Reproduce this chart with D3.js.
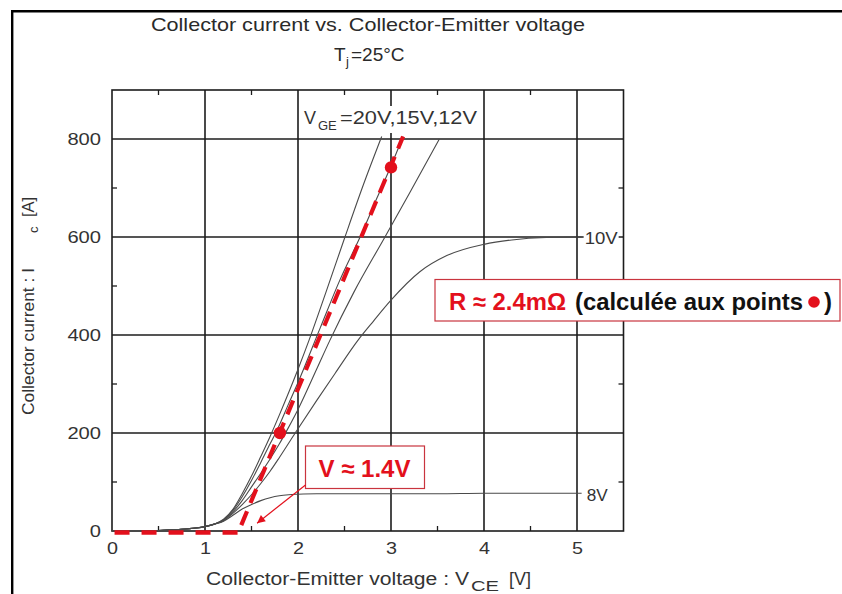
<!DOCTYPE html>
<html><head><meta charset="utf-8">
<script src="https://cdn.jsdelivr.net/npm/d3@7"></script>
<style>
body{margin:0;background:#fff}
svg{display:block}
text{font-family:"Liberation Sans",Arial,Helvetica,sans-serif}
</style>
</head><body>
<svg id="c" width="842" height="594"></svg>
<script>
// ---------- data ----------
const xTicks = [0, 1, 2, 3, 4, 5];
const yTicks = [0, 200, 400, 600, 800];
const xMinorTicks = [0.5, 1.5, 2.5, 3.5, 4.5];
const yMinorTicks = [100, 300, 500, 700];
const xDomain = [0, 5.5];
const yDomain = [0, 900];

const lowPart = [[0,0],[0.3,0.3],[0.5,1],[0.7,3],[0.9,6],[1.0,9],[1.1,14]];
const vge20 = [[1.2,24],[1.3,44],[1.4,76],[1.5,112],[1.6,152],[1.7,193],[1.8,237],[2.0,330],[2.12,390],[2.3,487],[2.505,600],[2.7,705],[2.9,805]];
const vge15 = [[1.2,23],[1.3,42],[1.4,70],[1.5,103],[1.6,140],[1.7,178],[1.76,200],[1.9,260],[2.0,303],[2.24,415],[2.45,512],[2.68,605],[2.85,680],[3.0,745],[3.13,805]];
const vge12 = [[1.2,22],[1.3,39],[1.4,62],[1.5,90],[1.6,118],[1.7,147],[1.8,178],[1.9,212],[2.0,248],[2.2,330],[2.34,388],[2.6,487],[2.935,600],[3.2,690],[3.52,800]];
const vge10 = [[1.2,21],[1.3,36],[1.4,54],[1.5,74],[1.6,97],[1.7,122],[1.8,150],[1.97,200],[2.2,266],[2.4,322],[2.64,388],[2.81,428],[3.0,471],[3.31,529],[3.6,562],[4.0,585],[4.3,594],[4.67,599],[5.05,600]];
const vge8  = [[1.2,20],[1.3,32],[1.4,45],[1.5,54],[1.6,62],[1.7,68],[1.8,72],[1.9,74],[2.0,75],[2.2,76],[2.6,76],[3.0,76],[3.5,76],[4.0,77],[4.5,77],[5.05,77]];
const curveLabels = ["10V", "8V"];

const fitLine = [[1.39,12],[3.13,805]];
const thresholdLine = [[1.35,-3],[0,-3]];
const resPoints = [[1.806,200],[3.0,742]];
const arrowTip = [1.56,16];

// ---------- layout ----------
const svg = d3.select("#c");
const X0 = 112, X1 = 623.5, Y0 = 531, Y1 = 90;
const x = d3.scaleLinear().domain(xDomain).range([X0, X1]);
const y = d3.scaleLinear().domain(yDomain).range([Y0, Y1]);
const RED = "#e3101c", GRID = "#1c1c1c", TXT = "#333";

// outer frame
svg.append("path").attr("d", `M12.2,594 V11.2 H842`).attr("fill","none").attr("stroke","#000").attr("stroke-width",2.4);

// grid
const g = svg.append("g");
g.selectAll(".vg").data(xTicks.filter(d=>d>0)).enter().append("line")
  .attr("x1",d=>x(d)).attr("x2",d=>x(d)).attr("y1",Y1).attr("y2",Y0)
  .attr("stroke",GRID).attr("stroke-width",1.6);
g.selectAll(".hg").data(yTicks.filter(d=>d>0)).enter().append("line")
  .attr("y1",d=>y(d)).attr("y2",d=>y(d)).attr("x1",X0).attr("x2",X1)
  .attr("stroke",GRID).attr("stroke-width",1.6);
g.append("rect").attr("x",X0).attr("y",Y1).attr("width",X1-X0).attr("height",Y0-Y1)
  .attr("fill","none").attr("stroke",GRID).attr("stroke-width",1.6);
// minor ticks
g.selectAll(".mb").data(xMinorTicks).enter().append("line")
  .attr("x1",d=>x(d)).attr("x2",d=>x(d)).attr("y1",Y0).attr("y2",Y0-5).attr("stroke",GRID).attr("stroke-width",1.3);
g.selectAll(".mt").data(xMinorTicks).enter().append("line")
  .attr("x1",d=>x(d)).attr("x2",d=>x(d)).attr("y1",Y1).attr("y2",Y1+5).attr("stroke",GRID).attr("stroke-width",1.3);
g.selectAll(".ml").data(yMinorTicks).enter().append("line")
  .attr("y1",d=>y(d)).attr("y2",d=>y(d)).attr("x1",X0).attr("x2",X0+5).attr("stroke",GRID).attr("stroke-width",1.3);
g.selectAll(".mr").data(yMinorTicks).enter().append("line")
  .attr("y1",d=>y(d)).attr("y2",d=>y(d)).attr("x1",X1).attr("x2",X1-5).attr("stroke",GRID).attr("stroke-width",1.3);

// axes labels
const xa = svg.append("g").attr("transform",`translate(0,${Y0})`)
  .call(d3.axisBottom(x).tickValues(xTicks).tickSize(0).tickPadding(11).tickFormat(d3.format("d")));
xa.select(".domain").remove();
xa.selectAll("text").attr("font-size",17).attr("fill",TXT).attr("font-family",'"Liberation Sans",Arial,sans-serif')
  .attr("textLength",11).attr("lengthAdjust","spacingAndGlyphs");
const ya = svg.append("g").attr("transform",`translate(${X0},0)`)
  .call(d3.axisLeft(y).tickValues(yTicks).tickSize(0).tickPadding(11).tickFormat(d3.format("d")));
ya.select(".domain").remove();
ya.selectAll("text").attr("font-size",17).attr("fill",TXT).attr("font-family",'"Liberation Sans",Arial,sans-serif')
  .attr("textLength",d=>String(d).length*11.2).attr("lengthAdjust","spacingAndGlyphs");

// curves
const line = d3.line().x(d=>x(d[0])).y(d=>y(d[1])).curve(d3.curveMonotoneX);
[vge20, vge15, vge12, vge10, vge8].forEach(s=>{
  svg.append("path").datum(lowPart.concat(s)).attr("d",line)
    .attr("fill","none").attr("stroke","#4a4a4a").attr("stroke-width",1.1);
});

// curve labels
function labelWithBg(txt, px, py, w){
  svg.append("rect").attr("x",px-1).attr("y",py-14).attr("width",w+2).attr("height",17).attr("fill","#fff");
  svg.append("text").attr("x",px).attr("y",py).attr("font-size",17).attr("fill",TXT)
    .attr("textLength",w).attr("lengthAdjust","spacingAndGlyphs").text(txt);
}
labelWithBg(curveLabels[0], x(5.05)+3, y(600)+7, 33);
labelWithBg(curveLabels[1], x(5.05)+5, y(77)+8, 21);

// VGE label
svg.append("rect").attr("x",300).attr("y",106).attr("width",182).attr("height",27).attr("fill","#fff");
const vl = svg.append("text").attr("y",124).attr("font-size",18).attr("fill",TXT);
vl.append("tspan").attr("x",304).text("V");
vl.append("tspan").attr("x",318).attr("dy",6).attr("font-size",13).text("GE");
svg.append("text").attr("x",340).attr("y",124).attr("font-size",18).attr("fill",TXT)
  .attr("textLength",137).attr("lengthAdjust","spacingAndGlyphs").text("=20V,15V,12V");

// titles
svg.append("text").attr("x",151).attr("y",31).attr("font-size",19).attr("fill","#2a2a2a")
  .attr("textLength",434).attr("lengthAdjust","spacingAndGlyphs")
  .text("Collector current vs. Collector-Emitter voltage");
const tj = svg.append("text").attr("y",61).attr("font-size",19).attr("fill","#2a2a2a");
tj.append("tspan").attr("x",334).text("T");
tj.append("tspan").attr("x",346).attr("dy",5).attr("font-size",13).text("j");
tj.append("tspan").attr("x",351).attr("dy",-5).text("=25°C");

// x title
const xt = svg.append("text").attr("y",585).attr("font-size",18).attr("fill",TXT);
xt.append("tspan").attr("x",206).attr("textLength",263).attr("lengthAdjust","spacingAndGlyphs").text("Collector-Emitter voltage : V");
xt.append("tspan").attr("x",471).attr("dy",6).attr("font-size",14).attr("textLength",28).attr("lengthAdjust","spacingAndGlyphs").text("CE");
xt.append("tspan").attr("x",509).attr("dy",-6).text("[V]");

// y title
const yt = svg.append("text").attr("transform","translate(34,415) rotate(-90)").attr("font-size",16.5).attr("fill",TXT);
yt.append("tspan").attr("x",0).attr("textLength",147).attr("lengthAdjust","spacingAndGlyphs").text("Collector current : I");
yt.append("tspan").attr("x",182).attr("dy",4).attr("font-size",13).text("c");
yt.append("tspan").attr("x",198).attr("dy",-4).text("[A]");

// red dashed fit lines
const sline = d3.line().x(d=>x(d[0])).y(d=>y(d[1]));
svg.append("path").datum(thresholdLine).attr("d",sline).attr("fill","none")
  .attr("stroke",RED).attr("stroke-width",4.5).attr("stroke-dasharray","15,12");
svg.append("path").datum(fitLine).attr("d",sline).attr("fill","none")
  .attr("stroke",RED).attr("stroke-width",4.2).attr("stroke-dasharray","15,9");
svg.selectAll(".rp").data(resPoints).enter().append("circle")
  .attr("cx",d=>x(d[0])).attr("cy",d=>y(d[1])).attr("r",6.2).attr("fill",RED);

// R box
svg.append("rect").attr("x",435).attr("y",279.5).attr("width",405).attr("height",41.5)
  .attr("fill","#fff").attr("stroke","#c9343e").attr("stroke-width",1.2);
svg.append("text").attr("x",449).attr("y",309.5).attr("font-size",24).attr("font-weight","bold").attr("fill",RED)
  .attr("textLength",117).attr("lengthAdjust","spacingAndGlyphs").text("R ≈ 2.4mΩ");
svg.append("text").attr("x",575).attr("y",309.5).attr("font-size",24).attr("font-weight","bold").attr("fill","#111")
  .attr("textLength",228).attr("lengthAdjust","spacingAndGlyphs").text("(calculée aux points");
svg.append("circle").attr("cx",814).attr("cy",302).attr("r",5.8).attr("fill",RED);
svg.append("text").attr("x",824).attr("y",309.5).attr("font-size",24).attr("font-weight","bold").attr("fill","#111").text(")");

// V box
svg.append("rect").attr("x",305.5).attr("y",446).attr("width",119).attr("height",42.5)
  .attr("fill","#fff").attr("stroke","#c9343e").attr("stroke-width",1.2);
svg.append("text").attr("x",318.5).attr("y",477).attr("font-size",24).attr("font-weight","bold").attr("fill",RED)
  .attr("textLength",92).attr("lengthAdjust","spacingAndGlyphs").text("V ≈ 1.4V");

// arrow
const defs = svg.append("defs");
defs.append("marker").attr("id","ah").attr("viewBox","0 0 10 10").attr("refX",10).attr("refY",5)
  .attr("markerWidth",10).attr("markerHeight",8).attr("markerUnits","userSpaceOnUse").attr("orient","auto")
  .append("path").attr("d","M0,0 L10,5 L0,10 Z").attr("fill",RED);
svg.append("line").attr("x1",305.5).attr("y1",485).attr("x2",x(arrowTip[0])).attr("y2",y(arrowTip[1]))
  .attr("stroke",RED).attr("stroke-width",1.2).attr("marker-end","url(#ah)");
</script>
</body></html>
